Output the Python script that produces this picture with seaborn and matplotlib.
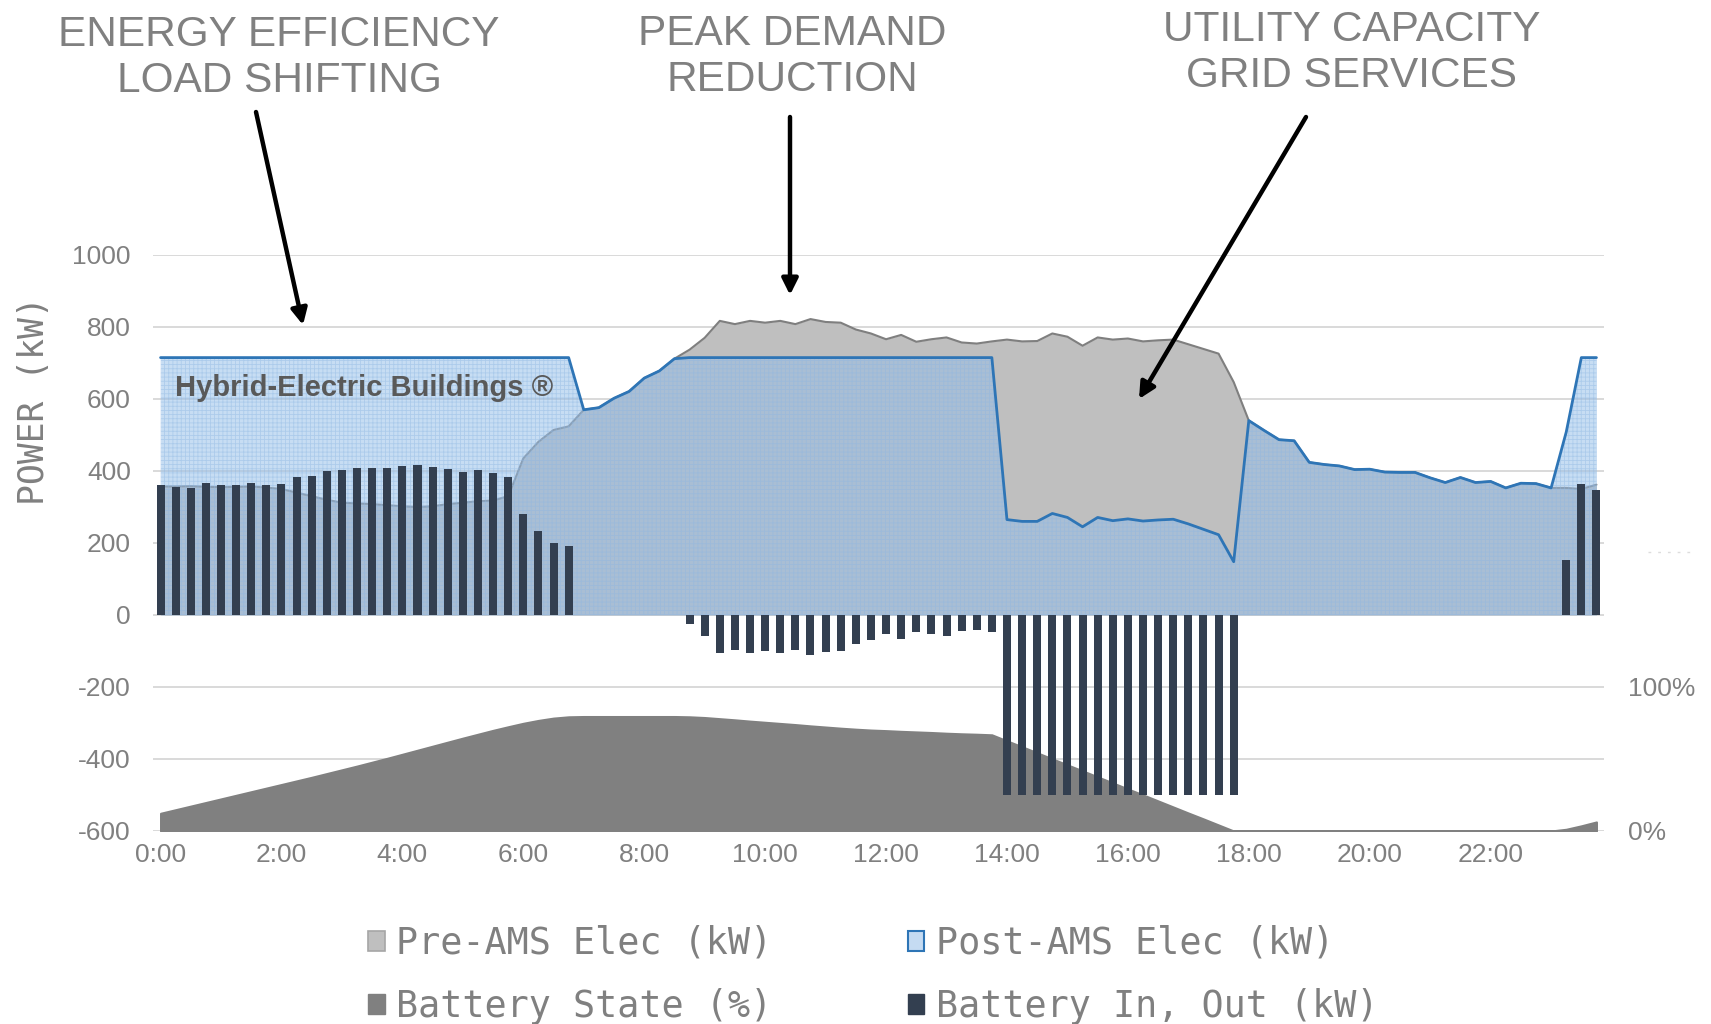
import numpy as np
import matplotlib
matplotlib.use("Agg")
import matplotlib.pyplot as plt
import seaborn as sns
from matplotlib.patches import Patch, FancyArrowPatch
from matplotlib.lines import Line2D
from matplotlib.ticker import FuncFormatter

sns.set_theme(style="white")
plt.rcParams['font.family'] = ['Liberation Sans', 'DejaVu Sans']
plt.rcParams['hatch.linewidth'] = 0.6
plt.rcParams['axes.unicode_minus'] = False

# ---------------- data (15-minute intervals, 0:00 .. 23:45) ----------------
tick_labels = ["0:00", "2:00", "4:00", "6:00", "8:00", "10:00", "12:00",
               "14:00", "16:00", "18:00", "20:00", "22:00"]

pre_ams_kw = [357, 357, 358, 356, 355, 356, 357, 354, 350, 340, 330, 320,
              312, 310, 308, 305, 302, 300, 302, 308, 312, 316, 318, 330,
              435, 481, 514, 524,
              570, 576, 602, 621, 658, 678, 712,
              737, 770, 817, 808, 817, 812, 817, 808, 822, 814, 812, 793,
              782, 766, 778, 759, 766, 771, 757, 754, 760,
              765, 760, 761, 782, 773, 748, 771, 765, 768, 760, 763, 765,
              752, 739, 726, 647,
              540, 513, 487, 484, 424, 418, 414, 404, 405, 397, 396, 396,
              381, 368, 382, 368, 371, 353, 366, 365, 353,
              353, 350, 362]

post_ams_kw = [715, 715, 715, 715, 715, 715, 715, 715, 715, 715, 715, 715,
               715, 715, 715, 715, 715, 715, 715, 715, 715, 715, 715, 715,
               715, 715, 715, 715,
               570, 576, 602, 621, 658, 678, 712,
               715, 715, 715, 715, 715, 715, 715, 715, 715, 715, 715, 715,
               715, 715, 715, 715, 715, 715, 715, 715, 715,
               265, 260, 260, 282, 271, 245, 271, 262, 267, 261, 264, 266,
               253, 238, 223, 148,
               540, 513, 487, 484, 424, 418, 414, 404, 405, 397, 396, 396,
               381, 368, 382, 368, 371, 353, 366, 365, 353,
               508, 715, 715]

battery_kw = [362, 356, 353, 366, 362, 362, 368, 360, 364, 384, 385, 399,
              404, 409, 409, 409, 413, 418, 410, 405, 397, 404, 395, 382,
              280, 234, 201, 191,
              0, 0, 0, 0, 0, 0, 0,
              -25, -58, -105, -96, -105, -101, -105, -96, -110, -103, -101, -80,
              -70, -54, -66, -47, -54, -59, -44, -41, -47,
              -500, -500, -500, -500, -500, -500, -500, -500, -500, -500, -500, -500,
              -500, -500, -500, -500,
              0, 0, 0, 0, 0, 0, 0, 0, 0, 0, 0, 0,
              0, 0, 0, 0, 0, 0, 0, 0, 0,
              153, 365, 348]

battery_pct = [12.3, 14.8, 17.3, 19.8, 22.3, 24.8, 27.3, 29.8, 32.3, 34.8, 37.3, 39.9,
               42.5, 45.1, 47.8, 50.5, 53.3, 56.1, 58.9, 61.7, 64.5, 67.2, 69.9, 72.4,
               74.8, 76.8, 78.4, 79.3,
               79.5, 79.5, 79.5, 79.5, 79.5, 79.5, 79.5,
               79.3, 78.8, 78.0, 77.2, 76.3, 75.5, 74.7, 73.9, 73.0, 72.2, 71.4, 70.7,
               70.1, 69.7, 69.2, 68.8, 68.4, 67.9, 67.5, 67.2, 66.8,
               62.6, 58.5, 54.3, 50.1, 45.9, 41.8, 37.6, 33.4, 29.2, 25.1, 20.9, 16.7,
               12.5, 8.4, 4.2, 0.0,
               0, 0, 0, 0, 0, 0, 0, 0, 0, 0, 0, 0,
               0, 0, 0, 0, 0, 0, 0, 0, 0,
               1.2, 3.6, 6.3]

# ---------------- styling ----------------
GRAY_TXT = '#808080'
PRE_FILL = '#BFBFBF'
PRE_LINE = '#7F7F7F'
POST_FILL = '#95BEE8'
POST_LINE = '#2E75B6'
STATE_FILL = '#808080'
BAR_COL = '#333F50'

idx = np.arange(len(pre_ams_kw))

W, H = 1711, 1024
fig = plt.figure(figsize=(W / 100, H / 100), dpi=100)
L, R, B, T = 153, 1604, 831, 255
ax = fig.add_axes([L / W, 1 - B / H, (R - L) / W, (B - T) / H])
ax2 = ax.twinx()
ax.set_zorder(ax2.get_zorder() + 1)
ax.patch.set_visible(False)

# battery state on secondary axis (behind)
ax2.fill_between(idx, 0, battery_pct, facecolor=STATE_FILL, edgecolor=STATE_FILL,
                 linewidth=1.5, zorder=2)
ax2.set_ylim(0, 400)
ax2.set_yticks(np.arange(0, 401, 50))
ax2.yaxis.set_major_formatter(FuncFormatter(
    lambda v, p: f"{v:.0f}%" if round(v) in (0, 100) else ""))
ax2.grid(True, axis='y', color='#D9D9D9', linewidth=1.4, zorder=0)
ax2.grid(False, axis='x')
ax2.set_axisbelow(True)
ax2.tick_params(axis='y', length=0, pad=17, labelsize=19, labelcolor=GRAY_TXT)

# pre-AMS area
ax.fill_between(idx, 0, pre_ams_kw, facecolor=PRE_FILL, linewidth=0, zorder=1)
ax.plot(idx, pre_ams_kw, color=PRE_LINE, linewidth=1.5, zorder=1.5)
# post-AMS area (translucent, fine grid pattern)
ax.fill_between(idx, 0, post_ams_kw, facecolor=POST_FILL, alpha=0.52,
                linewidth=0, zorder=2)
ax.fill_between(idx, 0, post_ams_kw, facecolor='none', edgecolor='#8DB6E2',
                hatch='++++', linewidth=0, alpha=0.45, zorder=2.1)
sns.lineplot(x=idx, y=post_ams_kw, color=POST_LINE, linewidth=2, ax=ax, zorder=2.5)

# battery in/out bars
sns.barplot(x=idx, y=battery_kw, color=BAR_COL, width=0.53, errorbar=None,
            saturation=1, ax=ax, zorder=3, linewidth=0, edgecolor=BAR_COL)

ax.set_xlim(-0.5, len(idx) - 0.5)
ax.set_ylim(-600, 1000)
ax.set_yticks(np.arange(-600, 1001, 200))
ax.set_xticks(np.arange(0, len(idx), 8))
ax.set_xticklabels(tick_labels)
ax.grid(False)
ax.set_xlabel("")
ax.set_ylabel("")
ax.tick_params(axis='y', length=0, pad=16, labelsize=19, labelcolor=GRAY_TXT)
ax.tick_params(axis='x', length=0, pad=9, labelsize=19, labelcolor=GRAY_TXT)
for a in (ax, ax2):
    for s in a.spines.values():
        s.set_visible(False)

# inside label
ax.text(0.97, 631, "Hybrid-Electric Buildings ®", fontsize=21, fontweight='bold',
        color='#595959', ha='left', va='center', zorder=5)

# y label
fig.text(34 / W, 1 - 401 / H, "POWER (kW)", rotation=90, va='center', ha='center',
         family=['DejaVu Sans Mono'], fontsize=25, color=GRAY_TXT)

# headline annotations
heads = [("ENERGY EFFICIENCY\nLOAD SHIFTING", 279, 58),
         ("PEAK DEMAND\nREDUCTION", 792, 57),
         ("UTILITY CAPACITY\nGRID SERVICES", 1352, 53)]
for txt, x, y in heads:
    fig.text(x / W, 1 - y / H, txt, ha='center', va='center', fontsize=30.5,
             color=GRAY_TXT, linespacing=1.2)

arrows = [((256, 112), (303, 325)),
          ((790, 117), (790, 295)),
          ((1306, 117), (1139, 399))]
for (x0, y0), (x1, y1) in arrows:
    fig.add_artist(FancyArrowPatch(
        (x0 / W, 1 - y0 / H), (x1 / W, 1 - y1 / H), transform=fig.transFigure,
        arrowstyle='-|>', mutation_scale=24, color='black', linewidth=3.2,
        shrinkA=0, shrinkB=0, zorder=20))

# faint artifact on right
fig.add_artist(Line2D([1648 / W, 1692 / W], [1 - 552 / H, 1 - 552 / H],
                      transform=fig.transFigure, color='#DDDDDD', linewidth=1,
                      linestyle=(0, (2, 5))))

# legend
handles = [Patch(facecolor=PRE_FILL, edgecolor='#A6A6A6', linewidth=1.2),
           Patch(facecolor=STATE_FILL, edgecolor=STATE_FILL),
           Patch(facecolor='#C5DBF2', edgecolor=POST_LINE, linewidth=1.5),
           Patch(facecolor=BAR_COL, edgecolor=BAR_COL)]
labels = ["Pre-AMS Elec (kW)", "Battery State (%)",
          "Post-AMS Elec (kW)", "Battery In, Out (kW)"]
fig.legend(handles, labels, ncol=2, loc='center',
           bbox_to_anchor=(873 / W, 1 - 975 / H), frameon=False,
           prop={'family': 'DejaVu Sans Mono', 'size': 26.5}, labelcolor=GRAY_TXT,
           handlelength=0.45, handleheight=0.45, handletextpad=0.3,
           columnspacing=3.7, labelspacing=0.72, borderpad=0)

fig.savefig("out.png", dpi=100)
